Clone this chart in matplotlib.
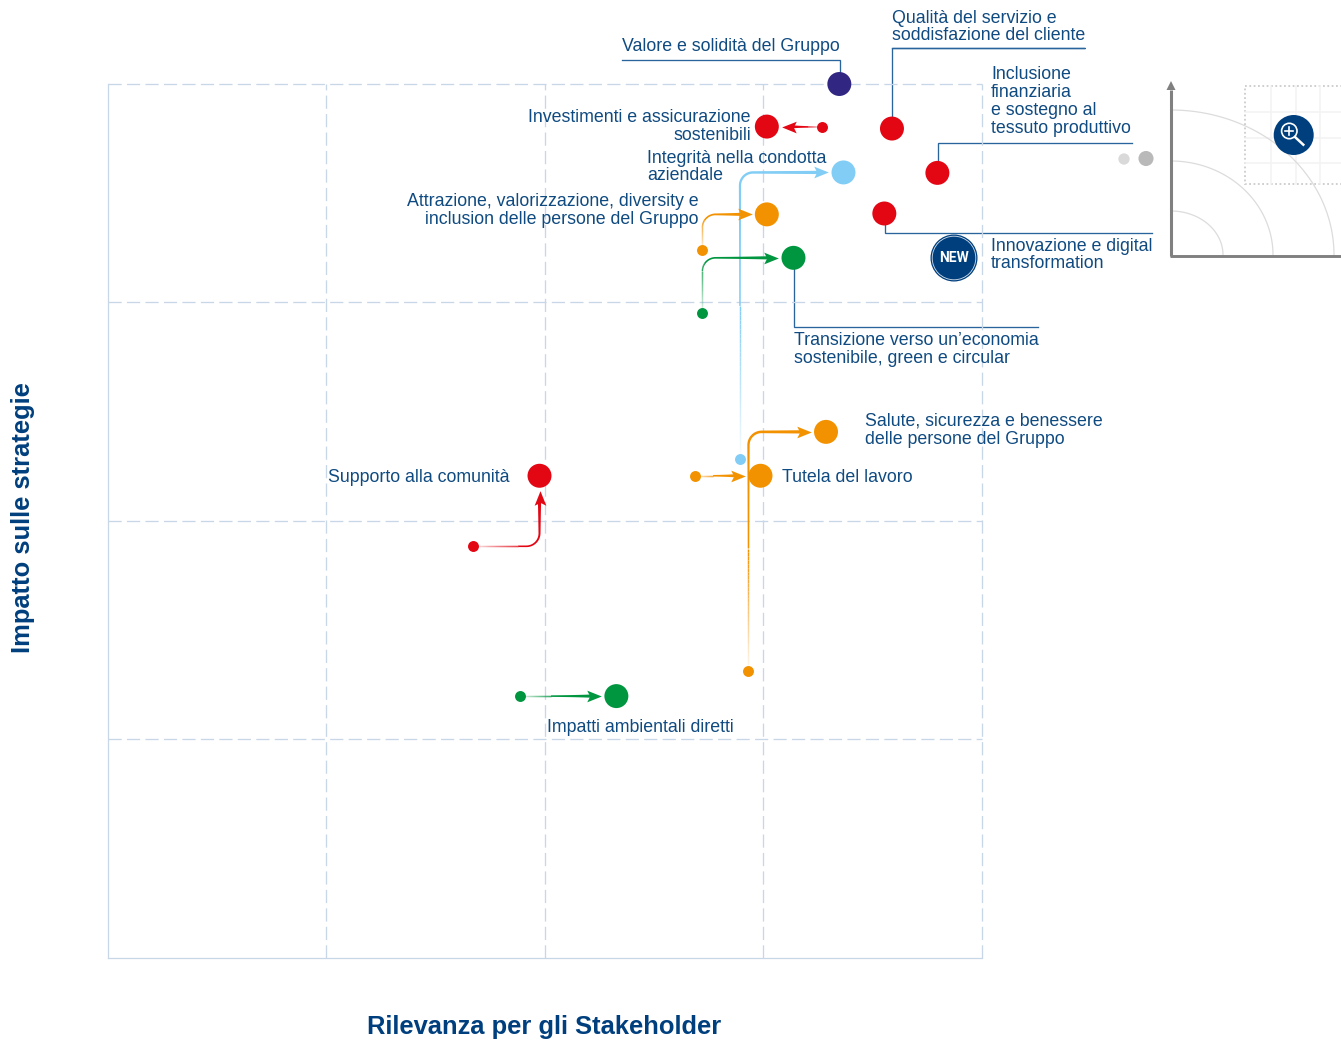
#!/usr/bin/env python3
import numpy as np
import matplotlib
matplotlib.use('Agg')
import matplotlib.pyplot as plt
from matplotlib.collections import LineCollection
from matplotlib.patches import Circle, Rectangle
from matplotlib.path import Path
from matplotlib.transforms import Affine2D

W, H = 1341, 1041

# topic values, frame goes 0-4 on both axes
topics = ['Valore', 'Investimenti', 'Qualita', 'Inclusione', 'Integrita', 'Attrazione',
          'Innovazione', 'Transizione', 'Salute', 'Tutela', 'Supporto', 'Impatti']
x_now = [3.349, 3.017, 3.590, 3.798, 3.368, 3.017, 3.555, 3.139, 3.288, 2.988, 1.976, 2.328]
y_now = [4.000, 3.805, 3.796, 3.593, 3.595, 3.403, 3.407, 3.204, 2.407, 2.206, 2.206, 1.197]
# previous year, None = no previous position
x_prev = [None, 3.269, None, None, 2.894, 2.722, None, 2.722, 2.933, 2.690, 1.671, 1.886]
y_prev = [None, 3.803, None, None, 2.284, 3.240, None, 2.950, 1.311, 2.206, 1.883, 1.197]
colors = ['#312783', '#e30613', '#e30613', '#e30613', '#82cdf5', '#f39200',
          '#e30613', '#009640', '#f39200', '#f39200', '#e30613', '#009640']
elbow = [None, None, None, None, 'vh', 'vh', None, 'vh', 'vh', None, 'hv', None]

# label text lines with anchor x, first baseline y, line step and alignment (pixels)
labels = [
    (['Valore e solidità del Gruppo'], 622, 51, 18, 'left'),
    (['Qualità del servizio e', 'soddisfazione del cliente'], 892, 23, 17.5, 'left'),
    (['Inclusione', 'finanziaria', 'e sostegno al', 'tessuto produttivo'], 991, 79, 18, 'left'),
    (['Investimenti e assicurazione', 'sostenibili'], 751, 122, 18, 'right'),
    (['Integrità nella condotta', 'aziendale'], 647, 163, 17.5, 'left'),
    (['Attrazione, valorizzazione, diversity e', 'inclusion delle persone del Gruppo'], 699, 206, 18, 'right'),
    (['Innovazione e digital', 'transformation'], 991, 251, 17.5, 'left'),
    (['Transizione verso un’economia', 'sostenibile, green e circular'], 794, 345, 18, 'left'),
    (['Salute, sicurezza e benessere', 'delle persone del Gruppo'], 865, 426, 18, 'left'),
    (['Tutela del lavoro'], 782, 482, 18, 'left'),
    (['Supporto alla comunità'], 328, 482, 18, 'left'),
    (['Impatti ambientali diretti'], 547, 732, 18, 'left'),
]
leaders = [
    ([622, 840, 840], [60, 60, 74]),
    ([892.5, 1085, 892.5, 892.5], [47.5, 47.5, 47.5, 118]),
    ([938, 938, 1132], [163, 143, 143]),
    ([885, 885, 1152], [224, 233, 233]),
    ([794, 794, 1038], [268, 327, 327]),
]

TEXT = '#0f4a80'
LINE = '#2a649c'
NAVY = '#003f7d'
GRID = '#c8d7e7'
UNIT = 218.4  # pixels per axis unit

plt.rcParams['font.family'] = ['Liberation Sans', 'DejaVu Sans']

fig = plt.figure(figsize=(W / 100, H / 100), dpi=100)

# overlay in pixels for leaders and inset, sits under the plot axes
ov = fig.add_axes([0, 0, 1, 1], zorder=0)
ov.set_xlim(0, W)
ov.set_ylim(H, 0)
ov.axis('off')

ax = fig.add_axes([108 / W, 1 - 957.5 / H, 873.5 / W, 873.5 / H], zorder=1)
ax.set_xlim(0, 4)
ax.set_ylim(0, 4)
ax.patch.set_visible(False)
ax.set_xticks([])
ax.set_yticks([])
for s in ['top', 'right']:
    ax.spines[s].set_visible(False)
for s in ['left', 'bottom']:
    ax.spines[s].set_color(GRID)
    ax.spines[s].set_linewidth(0.9)
for v in [1, 2, 3, 4]:
    ax.axvline(v, color=GRID, lw=0.95, dashes=(10, 4), zorder=1, clip_on=False)
    ax.axhline(v, color=GRID, lw=0.95, dashes=(10, 4), zorder=1, clip_on=False)

# stealth arrow head pointing right, in points
head = Path([(1, 0), (-0.75, 0.7), (-0.4, 0), (-0.75, -0.7), (1, 0)],
            [Path.MOVETO, Path.LINETO, Path.LINETO, Path.LINETO, Path.CLOSEPOLY])


def arrow_path(x0, y0, x1, y1, mode, gap=0.11, r=0.06):
    if mode is None:
        d = np.array([x1 - x0, y1 - y0])
        d = d / np.hypot(*d)
        end = np.array([x1, y1]) - d * gap
        px = np.linspace(x0, end[0], 80)
        py = np.linspace(y0, end[1], 80)
        return px, py, d
    t = np.linspace(0, np.pi / 2, 20)
    sx = np.sign(x1 - x0)
    sy = np.sign(y1 - y0)
    if mode == 'vh':
        end = x1 - sx * gap
        ax1 = x0 + sx * r * (1 - np.cos(t))
        ay1 = y1 - sy * r + sy * r * np.sin(t)
        px = np.r_[np.full(60, x0), ax1, np.linspace(x0 + sx * r, end, 40)]
        py = np.r_[np.linspace(y0, y1 - sy * r, 60), ay1, np.full(40, y1)]
        return px, py, np.array([sx, 0.0])
    end = y1 - sy * gap
    ax1 = x1 - sx * r + sx * r * np.sin(t)
    ay1 = y0 + sy * r * (1 - np.cos(t))
    px = np.r_[np.linspace(x0, x1 - sx * r, 60), ax1, np.full(40, x1)]
    py = np.r_[np.full(60, y0), ay1, np.linspace(y0 + sy * r, end, 40)]
    return px, py, np.array([0.0, sy])


for i in range(len(topics)):
    if x_prev[i] is None:
        continue
    px, py, d = arrow_path(x_prev[i], y_prev[i], x_now[i], y_now[i], elbow[i])
    pts = np.column_stack([px, py])
    keep = np.r_[True, np.hypot(*np.diff(pts, axis=0).T) > 1e-9]
    pts = pts[keep]
    seg_len = np.hypot(*np.diff(pts, axis=0).T)
    f = np.r_[0, np.cumsum(seg_len)] / seg_len.sum()
    # width in axis units, grows towards the head
    width = (1.4 + 1.9 * f ** 3) / UNIT

    # faded first part as short pieces, the rest as one solid shape so no seams show
    cut = np.searchsorted(f, 0.42)
    segs = np.stack([pts[:cut], pts[1:cut + 1]], axis=1)
    rgba = np.tile(matplotlib.colors.to_rgba(colors[i]), (len(segs), 1))
    rgba[:, 3] = np.clip(0.05 + f[:cut] * 2.3, 0, 1)
    ax.add_collection(LineCollection(segs, colors=rgba, linewidths=1.05, zorder=3, capstyle='butt'))

    tang = np.gradient(pts, axis=0)
    tang = tang / np.hypot(tang[:, 0], tang[:, 1])[:, None]
    norm = np.column_stack([-tang[:, 1], tang[:, 0]])
    up = pts[cut:] + norm[cut:] * width[cut:, None] / 2
    dn = pts[cut:] - norm[cut:] * width[cut:, None] / 2
    poly = np.vstack([up, dn[::-1]])
    ax.fill(poly[:, 0], poly[:, 1], color=colors[i], lw=0, zorder=3)

    ang = np.degrees(np.arctan2(d[1], d[0]))
    m = head.transformed(Affine2D().rotate_deg(ang))
    ax.plot(pts[-1, 0] + d[0] * 0.004, pts[-1, 1] + d[1] * 0.004, marker=m, ms=12, color=colors[i],
            mew=0, zorder=4, clip_on=False)
    ax.scatter(x_prev[i], y_prev[i], s=62, color=colors[i], linewidths=0, zorder=5, clip_on=False)

ax.scatter(x_now, y_now, s=298, c=colors, linewidths=0, zorder=6, clip_on=False)

# labels, kept above the dashed grid
for lines, lx, ly, step, ha in labels:
    for k, txt in enumerate(lines):
        ax.text(lx, ly + k * step, txt, ha=ha, va='baseline', fontsize=12.8, color=TEXT,
                transform=ov.transData, zorder=7)
for lx, ly in leaders:
    ov.plot(lx, ly, color=LINE, lw=0.95, solid_joinstyle='miter')

ov.text(544, 1027, 'Rilevanza per gli Stakeholder', ha='center', va='center',
        fontsize=18.4, fontweight='bold', color=NAVY)
ov.text(23, 518, 'Impatto sulle strategie', ha='center', va='center', rotation=90,
        fontsize=18.4, fontweight='bold', color=NAVY)

# NEW badge
ov.add_patch(Circle((954, 258), 23.5, fc=NAVY, ec='none'))
ov.add_patch(Circle((954, 258), 21.8, fc='none', ec='#d5e0ec', lw=0.6))
ov.text(954, 258.5, 'NEW', ha='center', va='center', fontsize=10, fontweight='bold',
        color='white', family='Roboto')

# grey legend dots
ov.scatter([1124, 1146], [159, 158.5], s=[66, 118], c=['#d9d9d9', '#b9b9b9'], linewidths=0)

# small orientation inset on the right
for gx in [1270.7, 1295.7, 1320]:
    ov.plot([gx, gx], [86, 184], color='#f3f3f3', lw=1.1)
for gy in [111.7, 138, 163]:
    ov.plot([1245, W], [gy, gy], color='#f3f3f3', lw=1.1)
ov.add_patch(Rectangle((1245, 86), 120, 98, fc='none', ec='#cccccc', lw=1.3, ls=(0, (1, 1.4))))
t = np.linspace(0, np.pi / 2, 90)
for rx, ry in [(52, 44), (102, 94), (163, 145)]:
    ov.plot(1171 + rx * np.cos(t), 255 - ry * np.sin(t), color='#dcdcdc', lw=0.9)
ov.plot([1171, 1171], [90, 255.5], color='#808080', lw=2.2, solid_capstyle='butt')
ov.plot([1170, W], [255.5, 255.5], color='#808080', lw=2.1, solid_capstyle='butt')
ov.fill([1171, 1166.5, 1175.5], [81, 90, 90], color='#808080', lw=0)

ov.add_patch(Circle((1293.7, 135), 20, fc=NAVY, ec='none', zorder=5))
ov.add_patch(Circle((1289.3, 131), 7.7, fc='none', ec='white', lw=1.2, zorder=6))
ov.plot([1285.3, 1293.3], [131, 131], color='white', lw=1.2, zorder=6)
ov.plot([1289.3, 1289.3], [127, 135], color='white', lw=1.2, zorder=6)
ov.plot([1295, 1303.3], [137, 144.7], color='white', lw=1.8, zorder=6)

fig.savefig('out.png', dpi=100)
